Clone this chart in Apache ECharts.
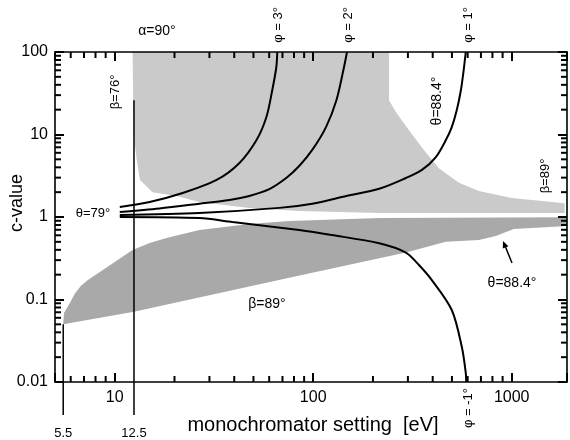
<!DOCTYPE html>
<html>
<head>
<meta charset="utf-8">
<script src="https://cdn.jsdelivr.net/npm/echarts@6/dist/echarts.min.js"></script>
<style>
html, body { margin: 0; padding: 0; background: #fff; }
#main { width: 570px; height: 440px; }
</style>
</head>
<body>
<div id="main"></div>
<script>
// shaded regions, [eV, c-value]
const lightUpper = [[12.3,100],[241,100],[241,26],[261,18.7],[303,11.3],[361,6.5],[430,3.9],[542,2.6],[683,2.07],[1000,1.7],[1850,1.47]];
const lightLower = [[12.3,100],[12.4,20],[12.6,8],[12.9,4.9],[13.4,2.8],[15.5,2.0],[20.5,1.8],[26.7,1.52],[47.6,1.29],[85,1.18],[215,1.12],[1850,1.12]];
const darkUpper = [[5.5,0.05],[5.55,0.0686],[5.94,0.0908],[6.29,0.117],[6.74,0.146],[7.32,0.172],[8.41,0.216],[10,0.285],[12.3,0.398],[15,0.484],[18.2,0.556],[26.7,0.695],[47.6,0.82],[75.7,0.895],[215,0.97],[1900,0.99]];
const darkLower = [[5.5,0.05],[12.5,0.071],[75.7,0.184],[293,0.37],[466,0.50],[683,0.526],[832,0.589],[1023,0.716],[1900,0.78]];

// curves for the different phi
const phi3 = [[10.6,1.32],[15,1.52],[22,1.95],[32.6,2.81],[42.5,4.52],[51.8,8.57],[58.1,16.3],[62.2,34.6],[65.2,65.8],[65.9,100]];
const phi2 = [[10.6,1.15],[16.8,1.27],[26.7,1.45],[37.8,1.61],[47.6,1.8],[60.1,2.18],[73.1,2.97],[85,4.15],[98.9,6.5],[116,12.3],[131,26.2],[143,65.8],[148,100]];
const phi1 = [[10.6,1.06],[26.7,1.12],[67.5,1.29],[98.9,1.45],[147,1.8],[215,2.2],[293,2.97],[353,3.72],[415,5.33],[466,8.57],[499,12.3],[529,19.8],[555,34.6],[573,60.5],[587,100]];
const phiM1 = [[10.6,1.0],[26.7,0.97],[39.2,0.87],[85,0.695],[124,0.605],[215,0.48],[293,0.37],[341,0.262],[396,0.172],[499,0.0746],[561,0.0265],[587,0.0129],[590,0.01]];

// vertical marker lines: [eV, top c-value]
const refLines = [[5.5,0.05],[12.5,26]];
const refLabels = ['5.5','12.5'];

// axes and ticks
const xRange = [5, 1900];
const yRange = [0.01, 100];
const xTicks = [10,100,1000];
const xTickLabels = ['10','100','1000'];
const yTicks = [0.01,0.1,1,10,100];
const yTickLabels = ['0.01','0.1','1','10','100'];
const xMinor = [6,7,8,9,20,30,40,50,60,70,80,90,200,300,400,500,600,700,800,900];
const yMinor = [0.02,0.03,0.04,0.05,0.06,0.07,0.08,0.09,0.2,0.3,0.4,0.5,0.6,0.7,0.8,0.9,2,3,4,5,6,7,8,9,20,30,40,50,60,70,80,90];

const FONT = '"Liberation Sans", Arial, sans-serif';

function tickLabel(ticks, labels) {
    return function (v) {
        for (let i = 0; i < ticks.length; i++) {
            if (Math.abs(Math.log10(v) - Math.log10(ticks[i])) < 1e-6) return labels[i];
        }
        return '';
    };
}

function region(upper, lower, color) {
    return {
        type: 'custom', silent: true, z: -1,
        data: [upper[0]],
        renderItem: function (params, api) {
            const pts = upper.concat(lower.slice().reverse()).map(function (p) { return api.coord(p); });
            return { type: 'polygon', shape: { points: pts }, style: { fill: color } };
        }
    };
}

function curve(data) {
    return {
        type: 'line', data: data, showSymbol: false, smooth: 0.3, silent: true, z: 3,
        lineStyle: { color: '#000', width: 2 }
    };
}

function axisMain(pos, isX) {
    const r = isX ? xRange : yRange;
    return {
        type: 'log', logBase: 10, position: pos,
        min: r[0], max: r[1],
        axisLine: { show: true, onZero: false, lineStyle: { color: '#000', width: 1.6 } },
        axisTick: { show: true, inside: true, length: 9, lineStyle: { color: '#000', width: 2 } },
        splitLine: { show: false },
        axisLabel: { show: false }
    };
}

const xBottom = axisMain('bottom', true);
xBottom.axisLabel = { show: true, formatter: tickLabel(xTicks, xTickLabels), color: '#000', fontSize: 16, fontFamily: FONT, margin: 8 };
const yLeft = axisMain('left', false);
yLeft.axisLabel = { show: true, formatter: tickLabel(yTicks, yTickLabels), color: '#000', fontSize: 16, fontFamily: FONT, margin: 7 };

function txt(text, x, y, size, rot) {
    return {
        type: 'text', x: x, y: y, rotation: rot ? Math.PI / 2 : 0, silent: true,
        style: { text: text, fontSize: size, fontFamily: FONT, fill: '#000', align: 'center', verticalAlign: 'middle' }
    };
}

function seg(a, b) {
    return { type: 'line', shape: { x1: a[0], y1: a[1], x2: b[0], y2: b[1] }, style: { stroke: '#000', lineWidth: 2 } };
}

const chart = echarts.init(document.getElementById('main'));
chart.setOption({
    animation: false,
    grid: { left: 55, right: 2, top: 52, bottom: 58 },
    xAxis: [xBottom, axisMain('top', true)],
    yAxis: [yLeft, axisMain('right', false)],
    series: [
        region(lightUpper, lightLower, '#cacaca'),
        region(darkUpper, darkLower, '#a9a9a9'),
        curve(phi3), curve(phi2), curve(phi1), curve(phiM1),
        {
            type: 'custom', silent: true, clip: false, z: 4,
            data: refLines,
            renderItem: function (params, api) {
                const top = api.coord([api.value(0), api.value(1)]);
                const bot = api.coord([api.value(0), yRange[0]]);
                return { type: 'group', children: [
                    { type: 'line', shape: { x1: top[0], y1: top[1], x2: bot[0], y2: bot[1] + 33 }, style: { stroke: '#000', lineWidth: 1.5 } },
                    { type: 'text', x: bot[0], y: bot[1] + 51, style: { text: refLabels[params.dataIndex], fontSize: 13, fontFamily: FONT, fill: '#000', align: 'center', verticalAlign: 'middle' } }
                ]};
            }
        },
        {
            // minor ticks (2..9 per decade) on all four sides
            type: 'custom', clip: false, z: 4,
            data: [[10, 1]],
            renderItem: function (params, api) {
                const children = [];
                xMinor.forEach(function (v) {
                    const b = api.coord([v, yRange[0]]);
                    const t = api.coord([v, yRange[1]]);
                    children.push(seg(b, [b[0], b[1] - 6]), seg(t, [t[0], t[1] + 6]));
                });
                yMinor.forEach(function (v) {
                    const l = api.coord([xRange[0], v]);
                    const r = api.coord([xRange[1], v]);
                    children.push(seg(l, [l[0] + 6, l[1]]), seg(r, [r[0] - 6, r[1]]));
                });
                return { type: 'group', children: children };
            }
        }
    ],
    graphic: [
        txt('α=90°', 157, 31, 14),
        txt('φ = 3°', 278, 25, 13, true),
        txt('φ = 2°', 348, 25, 13, true),
        txt('φ = 1°', 468, 25, 13, true),
        txt('β=76°', 115, 92, 13, true),
        txt('θ=88.4°', 437, 101, 14, true),
        txt('β=89°', 545, 176, 13, true),
        txt('θ=79°', 93, 213, 13),
        txt('β=89°', 267, 304, 14),
        txt('θ=88.4°', 512, 283, 14),
        txt('φ = -1°', 468, 408, 13, true),
        txt('monochromator setting  [eV]', 313, 425, 20),
        txt('c-value', 17, 203, 18, true),
        { type: 'line', silent: true, shape: { x1: 512, y1: 263, x2: 505.5, y2: 247 }, style: { stroke: '#000', lineWidth: 1.5 } },
        { type: 'polygon', silent: true, shape: { points: [[503, 241], [508.4, 246.3], [502.8, 248.6]] }, style: { fill: '#000' } }
    ]
});
</script>
</body>
</html>
